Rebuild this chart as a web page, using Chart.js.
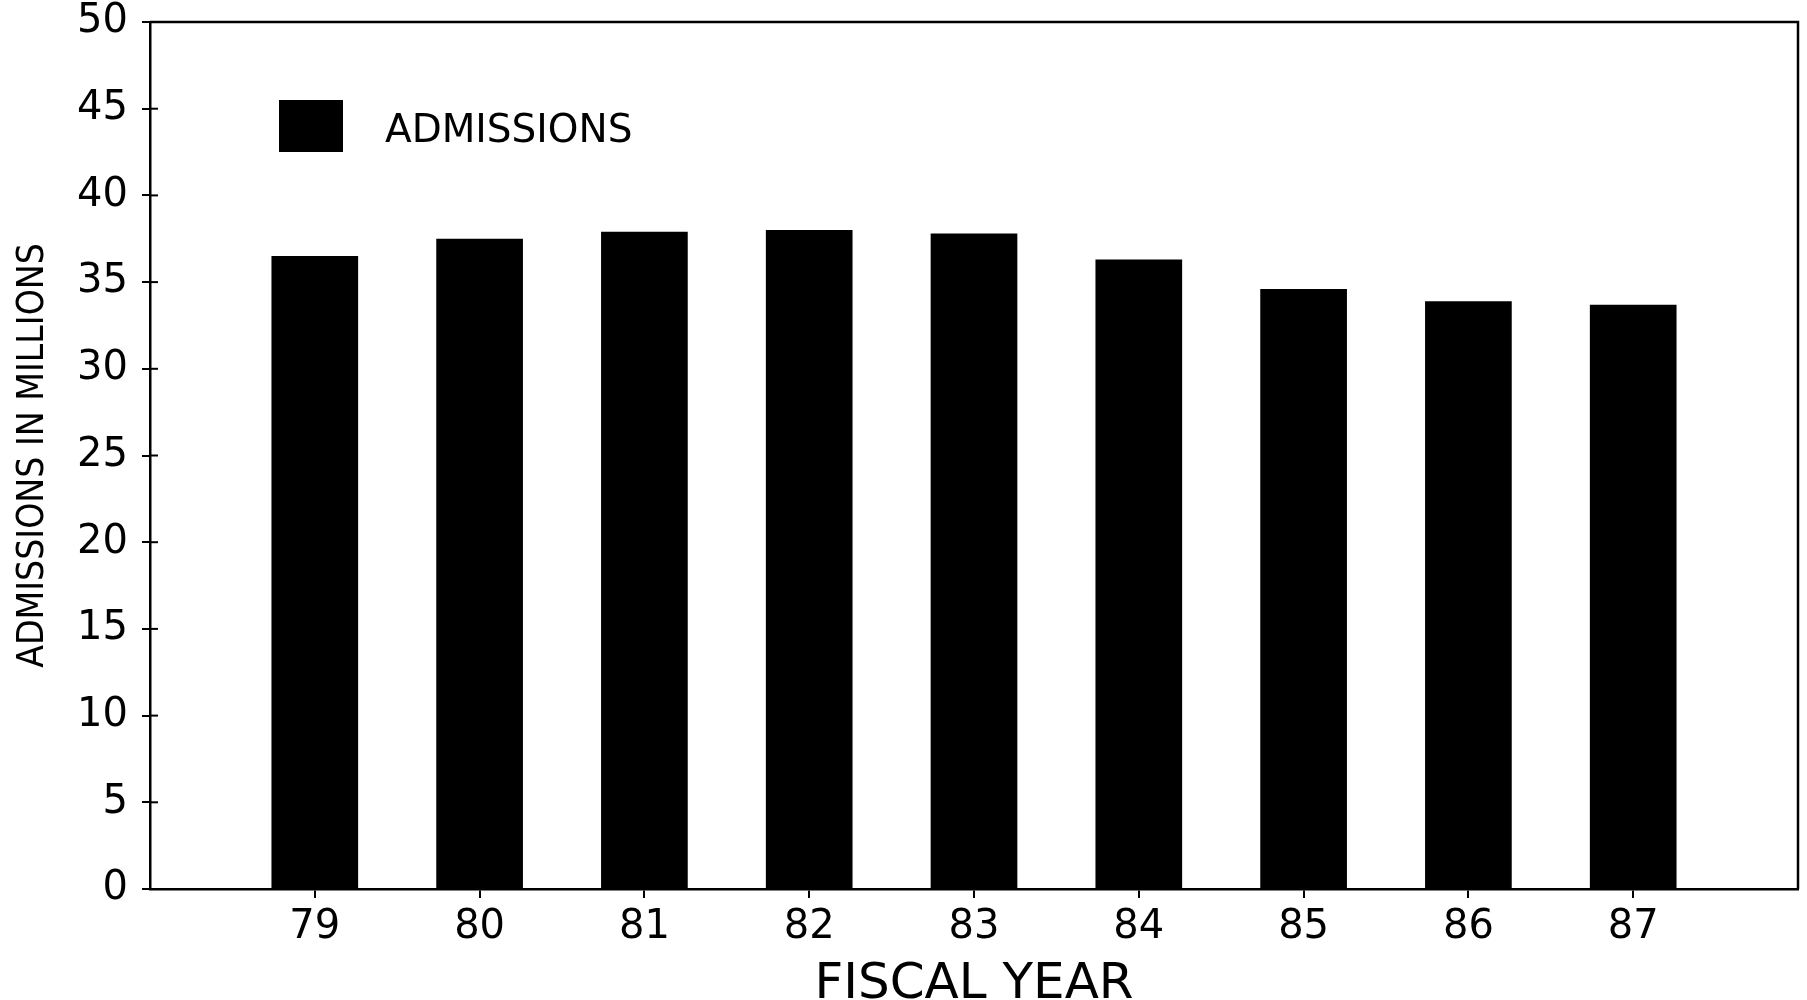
<!DOCTYPE html>
<html>
<head>
<meta charset="utf-8">
<title>Admissions by Fiscal Year</title>
<script src="https://cdn.jsdelivr.net/npm/chart.js@4.4.1/dist/chart.umd.min.js"></script>
<style>
    html, body { margin: 0; padding: 0; background: #ffffff; }
    #chartWrap { width: 1807px; height: 1000px; }
</style>
</head>
<body>
<div id="chartWrap"><canvas id="admissionsCanvas"></canvas></div>
<script>
// Fiscal years along the bottom axis
const fiscalYears = [79, 80, 81, 82, 83, 84, 85, 86, 87];
// Admissions in millions
const admissions = [36.5, 37.5, 37.9, 38.0, 37.8, 36.3, 34.6, 33.9, 33.7];
// Value axis ticks
const yTickValues = [0, 5, 10, 15, 20, 25, 30, 35, 40, 45, 50];
const seriesLabel = 'ADMISSIONS';
const xAxisTitle = 'FISCAL YEAR';
const yAxisTitle = 'ADMISSIONS IN MILLIONS';

const ink = '#000000';
const wideFont = 'DejaVu Sans';
const narrowFont = '"Liberation Sans Narrow", "DejaVu Sans Condensed", "Liberation Sans"';

// Top + right edges of the frame, inner half of the y tick crosses, and the boxed legend
const framePlugin = {
    id: 'frameAndLegend',
    afterDraw(chart) {
        const { ctx, chartArea } = chart;
        const yScale = chart.scales.y;
        ctx.save();
        ctx.strokeStyle = ink;
        ctx.lineWidth = 2.5;
        ctx.beginPath();
        ctx.moveTo(chartArea.left, chartArea.top);
        ctx.lineTo(chartArea.right, chartArea.top);
        ctx.lineTo(chartArea.right, chartArea.bottom);
        ctx.stroke();

        ctx.lineWidth = 2;
        yScale.ticks.forEach(t => {
            const py = yScale.getPixelForValue(t.value);
            ctx.beginPath();
            ctx.moveTo(chartArea.left, py);
            ctx.lineTo(chartArea.left + 8, py);
            ctx.stroke();
        });

        // legend swatch + label inside the plot
        const ds = chart.data.datasets[0];
        const boxX = chartArea.left + 129;
        const boxY = chartArea.top + 78;
        ctx.fillStyle = ds.backgroundColor;
        ctx.fillRect(boxX, boxY, 64, 52);
        ctx.fillStyle = ink;
        ctx.font = `39px ${wideFont}`;
        ctx.textBaseline = 'alphabetic';
        ctx.textAlign = 'left';
        ctx.fillText(ds.label, boxX + 106, boxY + 42);
        ctx.restore();
    }
};

const ctx = document.getElementById('admissionsCanvas').getContext('2d');
new Chart(ctx, {
    type: 'bar',
    data: {
        datasets: [{
            label: seriesLabel,
            data: fiscalYears.map((yr, i) => ({ x: yr, y: admissions[i] })),
            backgroundColor: ink,
            borderWidth: 0,
            barPercentage: 0.526,
            categoryPercentage: 1
        }]
    },
    options: {
        responsive: true,
        maintainAspectRatio: false,
        animation: false,
        layout: { padding: { top: 0, right: 9, left: 0, bottom: 0 } },
        plugins: {
            legend: { display: false },
            tooltip: { enabled: false }
        },
        scales: {
            x: {
                type: 'linear',
                offset: false,
                min: fiscalYears[0] - 1,
                max: fiscalYears[fiscalYears.length - 1] + 1,
                afterBuildTicks: scale => { scale.ticks = fiscalYears.map(v => ({ value: v })); },
                afterFit: scale => { scale.height = 111; },
                border: { display: true, color: ink, width: 2.5 },
                grid: { display: true, offset: false, drawOnChartArea: false, drawTicks: true, tickLength: 9, color: ink, lineWidth: 2 },
                ticks: {
                    color: ink,
                    font: { family: wideFont, size: 40 },
                    padding: 6,
                    maxRotation: 0,
                    callback: v => String(v)
                },
                title: {
                    display: true,
                    text: xAxisTitle,
                    color: ink,
                    font: { family: wideFont, size: 50, lineHeight: 1 },
                    padding: { top: 0, bottom: -10 }
                }
            },
            y: {
                min: 0,
                max: 50,
                afterBuildTicks: scale => { scale.ticks = yTickValues.map(v => ({ value: v })); },
                afterFit: scale => { scale.width = 150; },
                border: { display: true, color: ink, width: 2.5 },
                grid: { display: true, drawOnChartArea: false, drawTicks: true, tickLength: 8, color: ink, lineWidth: 2 },
                ticks: {
                    color: ink,
                    font: { family: wideFont, size: 40, lineHeight: 0.4 },
                    padding: 14
                },
                title: {
                    display: true,
                    text: yAxisTitle,
                    color: ink,
                    font: { family: narrowFont, size: 37, lineHeight: 1 },
                    padding: { top: 15, bottom: 0 }
                }
            }
        }
    },
    plugins: [framePlugin]
});
</script>
</body>
</html>
